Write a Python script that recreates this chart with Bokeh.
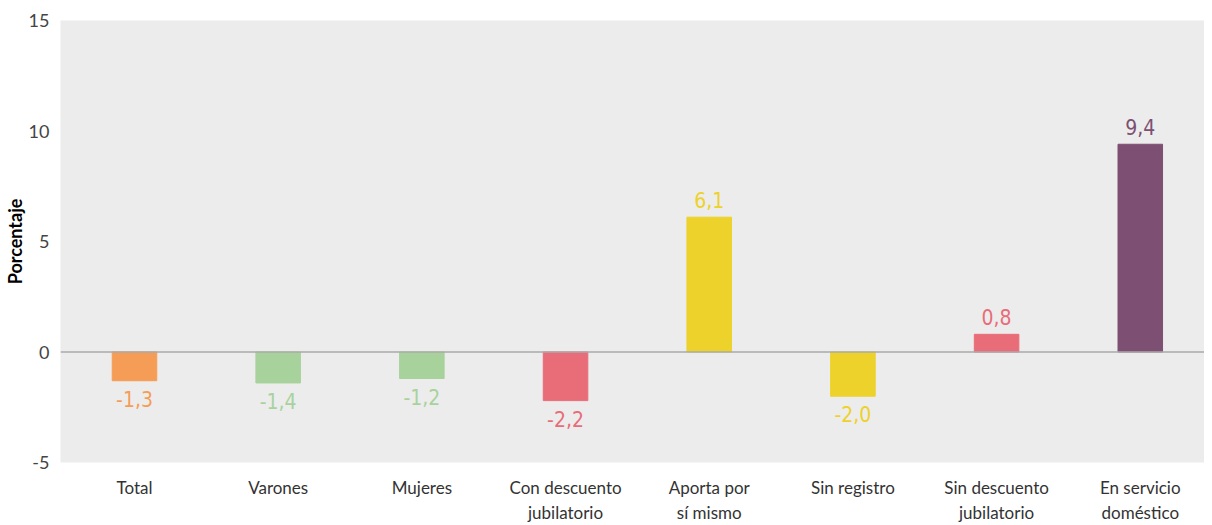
from bokeh.plotting import figure
from bokeh.models import ColumnDataSource, Span, FixedTicker
from bokeh.core.properties import value
from bokeh.embed import file_html
from bokeh.resources import INLINE

categories = ["Total", "Varones", "Mujeres", "Con descuento\njubilatorio", "Aporta por\nsí mismo",
              "Sin registro", "Sin descuento\njubilatorio", "En servicio\ndoméstico"]
values = [-1.3, -1.4, -1.2, -2.2, 6.1, -2.0, 0.8, 9.4]
colors = ["#f59d56", "#a8d29c", "#a8d29c", "#e96d78", "#ecd22a", "#ecd22a", "#e96d78", "#7d5073"]
y_ticks = [-5, 0, 5, 10, 15]

xs = list(range(len(categories)))
labels = [f"{v:.1f}".replace(".", ",") for v in values]

src = ColumnDataSource(dict(x=xs, top=values, color=colors, label=labels))
pos = ColumnDataSource(dict(x=[x for x, v in zip(xs, values) if v >= 0],
                            y=[v for v in values if v >= 0],
                            color=[c for c, v in zip(colors, values) if v >= 0],
                            label=[l for l, v in zip(labels, values) if v >= 0]))
neg = ColumnDataSource(dict(x=[x for x, v in zip(xs, values) if v < 0],
                            y=[v for v in values if v < 0],
                            color=[c for c, v in zip(colors, values) if v < 0],
                            label=[l for l, v in zip(labels, values) if v < 0]))

p = figure(width=1204, height=525, x_range=(-0.515, 7.447), y_range=(-5, 15),
           output_backend="svg", toolbar_location=None,
           min_border_left=52, min_border_top=20, min_border_right=0, min_border_bottom=62)
p.outline_line_color = None
p.background_fill_color = "#ececec"
p.border_fill_color = "white"
p.xgrid.visible = False
p.ygrid.visible = False

p.vbar(x="x", top="top", bottom=0, width=0.31, color="color", source=src)
p.add_layout(Span(location=0, dimension="width", line_color="#aaaaaa", line_width=1.5))

cond = value("DejaVu Sans Condensed")
p.text(x="x", y="y", text="label", text_color="color", source=pos, text_align="center",
       text_baseline="bottom", y_offset=-9, text_font=cond, text_font_size="21px")
p.text(x="x", y="y", text="label", text_color="color", source=neg, text_align="center",
       text_baseline="top", y_offset=10, text_font=cond, text_font_size="21px")

p.yaxis.ticker = FixedTicker(ticks=y_ticks)
p.yaxis.major_label_overrides = {t: str(t) for t in y_ticks}
p.yaxis.axis_line_color = None
p.yaxis.major_tick_line_color = None
p.yaxis.minor_tick_line_color = None
p.yaxis.major_tick_out = 0
p.yaxis.major_tick_in = 0
p.yaxis.minor_tick_out = 0
p.yaxis.major_label_text_font = "Lato"
p.yaxis.major_label_text_font_size = "18px"
p.yaxis.major_label_text_color = "#444444"
p.yaxis.major_label_standoff = 11
p.yaxis.axis_label = "Porcentaje"
p.yaxis.axis_label_text_font = "Lato"
p.yaxis.axis_label_text_font_style = "bold"
p.yaxis.axis_label_text_font_size = "18px"
p.yaxis.axis_label_text_color = "black"
p.yaxis.axis_label_standoff = 0

p.xaxis.ticker = FixedTicker(ticks=xs)
p.xaxis.major_label_overrides = {i: c for i, c in enumerate(categories)}
p.xaxis.axis_line_color = None
p.xaxis.major_tick_line_color = None
p.xaxis.minor_tick_line_color = None
p.xaxis.major_tick_out = 0
p.xaxis.major_tick_in = 0
p.xaxis.minor_tick_out = 0
p.xaxis.major_label_text_font = "Lato"
p.xaxis.major_label_text_font_size = "17px"
p.xaxis.major_label_text_color = "#333333"
p.xaxis.major_label_standoff = 14

open("out.html", "w").write(file_html(p, INLINE))
